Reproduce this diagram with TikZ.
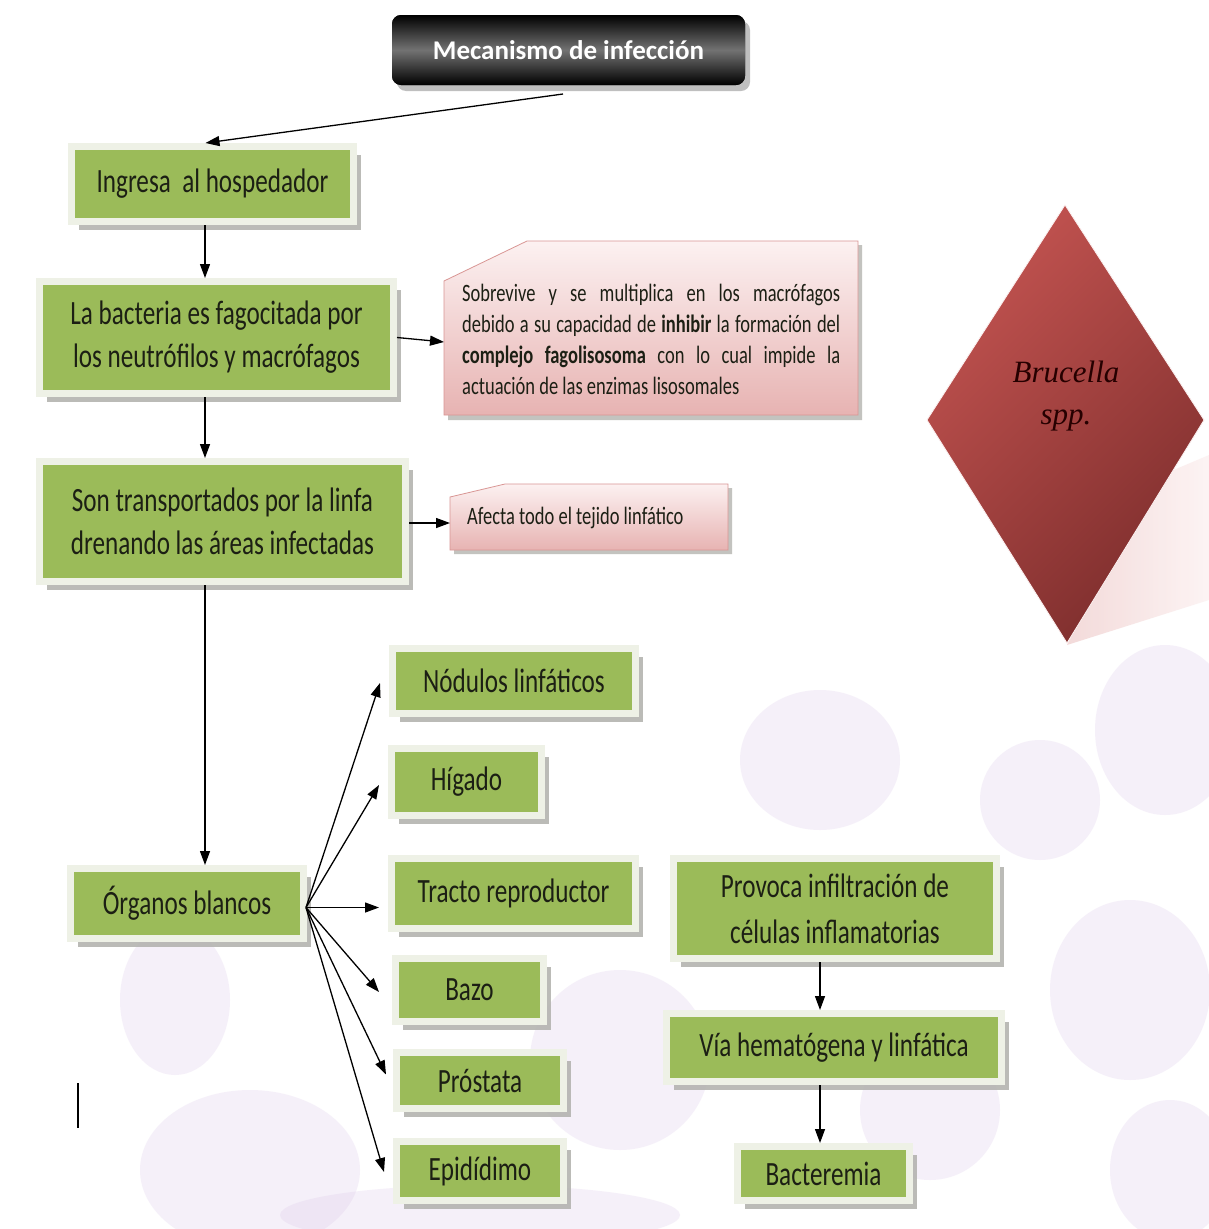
\documentclass[tikz,border=0pt]{standalone}
\usepackage{fontspec}
\usetikzlibrary{arrows.meta,shadows,calc}
\newfontfamily\cf[FakeStretch=0.74]{Carlito}
\newfontfamily\tf{Carlito}
\newfontfamily\brf{Liberation Serif}
\definecolor{gfill}{HTML}{9BBB59}
\definecolor{gframe}{HTML}{EEF1E6}
\definecolor{shadowc}{HTML}{B4B4B0}
\definecolor{txt}{HTML}{1C1F14}
\definecolor{pinktop}{HTML}{FCF1F1}
\definecolor{pinkbot}{HTML}{E7B3B2}
\definecolor{pinkline}{HTML}{D99694}
\definecolor{dia1}{HTML}{C25350}
\definecolor{dia2}{HTML}{7E2E2D}
\definecolor{cellc}{HTML}{D6BFE6}
\tikzset{
  gbox/.style={fill=gfill, draw=gframe, line width=7pt, inner sep=0pt, align=center,
    text=txt, font=\cf\fontsize{34}{43}\selectfont,
    drop shadow={shadow xshift=7pt, shadow yshift=-8pt, fill=shadowc, opacity=0.9}},
  arr/.style={-{Triangle[length=14pt,width=10pt]}, line width=1.3pt, black},
  cell/.style={fill=cellc, opacity=0.22},
  calltext/.style={inner sep=0pt, text=txt, font=\cf\fontsize{25}{31}\selectfont, align=left}
}
\newcommand\gnode[7]{%
  \node[gbox,#7, minimum width={(#4-#2+7)*1pt}, minimum height={(#5-#3+7)*1pt}]
    (#1) at ({(#2+#4)/2},{(#3+#5)/2}) {#6};}
\begin{document}
\begin{tikzpicture}[x=1pt,y=-1pt]
\useasboundingbox (0,0) rectangle (1209,1229);
\fill[white] (0,0) rectangle (1209,1229);
% background cells
\fill[cell] (1165,730) ellipse [x radius=70, y radius=85];
\fill[cell] (1130,990) ellipse [x radius=80, y radius=90];
\fill[cell] (1170,1170) ellipse [x radius=60, y radius=70];
\fill[cell] (175,1000) ellipse [x radius=55, y radius=75];
\fill[cell] (250,1170) ellipse [x radius=110, y radius=80];
\fill[cell] (620,1060) ellipse [x radius=90, y radius=90];
\fill[cell] (930,1110) ellipse [x radius=70, y radius=70];
\fill[cell] (1040,800) ellipse [x radius=60, y radius=60];
\fill[cell] (820,760) ellipse [x radius=80, y radius=70];
\fill[cell] (480,1215) ellipse [x radius=200, y radius=30];
% diamond shadow band
\shade[left color=pinkbot!60, right color=pinktop, opacity=0.8]
  (1150,480) -- (1209,455) -- (1209,600) -- (1067,645) -- cycle;
% diamond
\shade[top color=dia1, bottom color=dia2, shading angle=45, draw=pinktop, line width=0.8pt]
  (1065,205) -- (1204,420) -- (1067,643) -- (927,420) -- cycle;
\node[inner sep=0pt, align=center, text=black!85!red, font=\brf\itshape\fontsize{31}{42}\selectfont]
  (brucella) at (1066,396) {Brucella\\spp.};
% title
\node[fill=black, rounded corners=9pt, minimum width=353pt, minimum height=70pt,
  top color=black, bottom color=black, middle color=black!55,
  text=white, font=\tf\bfseries\fontsize{27}{32}\selectfont,
  drop shadow={shadow xshift=5pt, shadow yshift=-6pt, fill=gray!55, opacity=0.9}]
  (title) at (568.5,50) {Mecanismo de infección};
\coordinate (t1) at (563,94);
% green boxes
\gnode{ingresa}{75}{150}{350}{218}{Ingresa\ \ al hospedador}{}
\gnode{bacteria}{43}{285}{390}{390}{La bacteria es fagocitada por\\los neutrófilos y macrófagos}{}
\gnode{son}{43}{465}{402}{578}{Son transportados por la linfa\\drenando las áreas infectadas}{}
\gnode{organos}{74}{872}{300}{935}{Órganos blancos}{}
\gnode{nodulos}{396}{652}{632}{710}{Nódulos linfáticos}{}
\gnode{higado}{395}{752}{538}{812}{Hígado}{}
\gnode{tracto}{395}{862}{632}{925}{Tracto reproductor}{}
\gnode{bazo}{399}{962}{540}{1018}{Bazo}{}
\gnode{prostata}{400}{1056}{560}{1105}{Próstata}{}
\gnode{epididimo}{400}{1145}{560}{1197}{Epidídimo}{}
\gnode{provoca}{677}{862}{993}{955}{Provoca infiltración de\\[3pt]células inflamatorias}{}
\gnode{via}{670}{1017}{998}{1078}{Vía hematógena y linfática}{}
\gnode{bacteremia}{741}{1150}{906}{1197}{Bacteremia}{}
% callout 1
\fill[shadowc, opacity=0.8] (448,285) -- (531,245) -- (862,245) -- (862,420) -- (448,420) -- cycle;
\shade[top color=pinktop, bottom color=pinkbot, draw=pinkline, line width=0.8pt]
  (444,281) -- (527,241) -- (858,241) -- (858,415) -- (444,415) -- cycle;
\coordinate (callL) at (444,342);
\node[calltext, anchor=north west] (sobrevive) at (462,284) {%
  \makebox[378pt][s]{Sobrevive y se multiplica en los macrófagos}\\
  \makebox[378pt][s]{debido a su capacidad de \textbf{inhibir} la formación del}\\
  \makebox[378pt][s]{\textbf{complejo fagolisosoma} con lo cual impide la}\\
  actuación de las enzimas lisosomales};
% callout 2
\fill[shadowc, opacity=0.8] (454,501) -- (509,488) -- (732,488) -- (732,554) -- (454,554) -- cycle;
\shade[top color=pinktop, bottom color=pinkbot, draw=pinkline, line width=0.8pt]
  (450,497) -- (505,484) -- (728,484) -- (728,550) -- (450,550) -- cycle;
\coordinate (afL) at (450,523);
\node[calltext, anchor=base west] (afecta) at (467,524) {Afecta todo el tejido linfático};
% connectors
\coordinate (x205) at (205,0);
\draw[arr] (t1) -- ([xshift=-7pt]ingresa.north);
\draw[arr] (ingresa.south -| x205) -- (bacteria.north -| x205);
\draw[arr] (bacteria.east) -- (callL);
\draw[arr] (bacteria.south -| x205) -- (son.north -| x205);
\draw[arr] (son.east |- afL) -- (afL);
\draw[arr] (son.south -| x205) -- (organos.north -| x205);
\coordinate (fan) at ($(organos.east)+(-1,4)$);
\draw[arr] (fan) -- ($(nodulos.west)+(-9,2)$);
\draw[arr] (fan) -- ($(higado.west)+(-9,3)$);
\draw[arr] (fan) -- ($(tracto.west)+(-9,14)$);
\draw[arr] (fan) -- ($(bazo.west)+(-13,2)$);
\draw[arr] (fan) -- ($(prostata.west)+(-7,-6)$);
\draw[arr] (fan) -- ($(epididimo.west)+(-9,1)$);
\coordinate (x820) at (820,0);
\draw[arr] (provoca.south -| x820) -- (via.north -| x820);
\draw[arr] (via.south -| x820) -- (bacteremia.north -| x820);
% stray cursor mark
\draw[line width=2pt, black] (78,1083) -- (78,1128);
\end{tikzpicture}
\end{document}
